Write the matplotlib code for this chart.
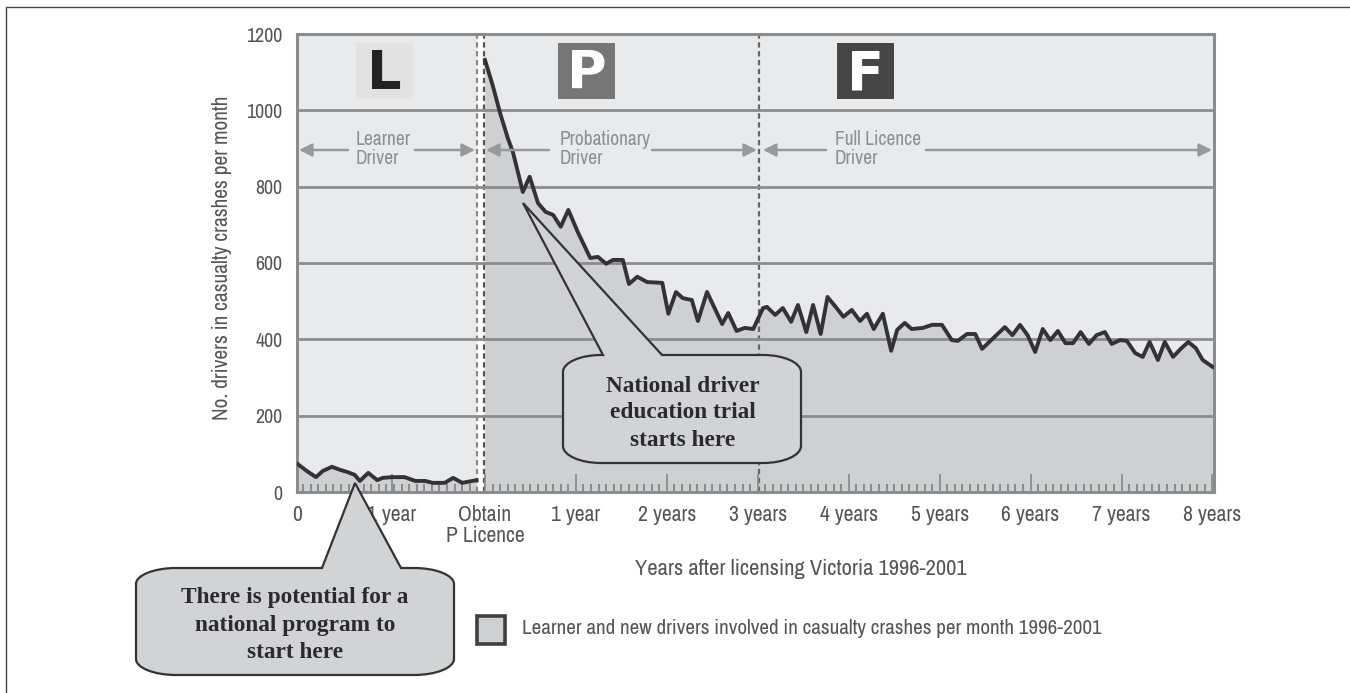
import matplotlib
matplotlib.use("Agg")
import matplotlib.pyplot as plt
from matplotlib.path import Path
from matplotlib.patches import PathPatch, Rectangle
from matplotlib.lines import Line2D
from matplotlib.transforms import Affine2D
from matplotlib import font_manager as fm
import numpy as np

# ---- data (months relative to obtaining the P licence) ----
learner_months = [-24.7, -23.5, -22.3, -21.4, -20.2, -19.1, -18.1, -17.2, -16.5, -15.4, -14.2, -13.5,
                  -12.3, -10.6, -9.2, -7.9, -6.9, -5.3, -4.2, -3.0, -1.1]
learner_values = [73, 55, 39, 55, 66, 58, 52, 45, 29, 50, 31, 37,
                  39, 39, 29, 29, 24, 24, 37, 24, 31]
licensed_months = [0, 1, 2, 3, 3.7, 5, 5.9, 7, 8, 9, 10, 11, 12.3, 13.9, 14.9, 16, 16.9, 18.2, 19, 20.1,
                   21.4, 23.4, 24.2, 25.2, 26.1, 27.3, 28.1, 29.3, 31.3, 32.1, 33.2, 34.3, 35.4, 36.7,
                   37.2, 38.3, 39.3, 40.4, 41.3, 42.4, 43.3, 44.3, 45.2, 46.4, 47.3, 48.4, 49.5, 50.4,
                   51.3, 52.5, 53.6, 54.4, 55.4, 56.3, 57.8, 59, 60.3, 61.6, 62.4, 63.6, 64.7, 65.6,
                   66.8, 68.6, 69.6, 70.6, 71.6, 72.6, 73.6, 74.6, 75.6, 76.6, 77.6, 78.6, 79.7, 80.7,
                   81.8, 82.7, 83.8, 84.7, 85.8, 86.8, 87.7, 88.8, 89.7, 90.8, 91.8, 92.8, 93.8, 94.7, 96]
licensed_values = [1132, 1067, 993, 928, 890, 786, 826, 757, 734, 726, 695, 739, 679, 613, 616, 598, 608, 608, 545, 564,
                   550, 548, 467, 524, 508, 503, 448, 524, 440, 469, 422, 430, 427, 482,
                   485, 464, 482, 446, 490, 419, 490, 414, 511, 482, 459, 477, 448, 467,
                   427, 467, 370, 425, 443, 427, 430, 438, 438, 398, 396, 414, 414, 375,
                   398, 432, 411, 438, 411, 367, 427, 398, 422, 390, 390, 419, 388, 411,
                   419, 388, 398, 396, 364, 354, 393, 346, 393, 354, 375, 393, 377, 346, 328]
y_ticks = [0, 200, 400, 600, 800, 1000, 1200]
x_tick_months = [-24.8, -12.3, 0, 12, 24, 36, 48, 60, 72, 84, 96]
x_tick_labels = ["0", "1 year", "Obtain\nP Licence", "1 year", "2 years", "3 years", "4 years",
                 "5 years", "6 years", "7 years", "8 years"]
y_label = "No. drivers in casualty crashes per month"
x_label = "Years after licensing Victoria 1996-2001"
legend_label = "Learner and new drivers involved in casualty crashes per month 1996-2001"

# ---- style ----
narrow = sorted({f.name for f in fm.fontManager.ttflist if "Narrow" in f.name or "Condensed" in f.name})
NARROW = narrow[0] if narrow else "Roboto"
SERIF = "Liberation Serif"
TXT = "#555557"
GRID = "#8b8c8e"
FILL = "#cfd0d2"
BG = "#e9eaec"
LINE = "#333335"

W, H = 1350, 693
fig = plt.figure(figsize=(W / 100, H / 100), dpi=100, facecolor="white")
ax = fig.add_axes([297 / W, 1 - 492 / H, (1214 - 297) / W, (492 - 34) / H], facecolor=BG)
px = Affine2D().scale(1, -1).translate(0, H)   # reference pixel coords -> display

ax.set_xlim(-24.8, 96.2)
ax.set_ylim(0, 1200)

ax.fill_between(learner_months, learner_values, 0, color=FILL, lw=0, zorder=1)
ax.fill_between(licensed_months, licensed_values, 0, color=FILL, lw=0, zorder=1)
ax.axvspan(-1.0, -0.1, color="white", lw=0, zorder=1.2)

ax.set_yticks(y_ticks)
ax.yaxis.grid(True, color=GRID, lw=2.0, zorder=1.5)
ax.set_axisbelow(False)
ax.tick_params(axis="y", length=0, labelsize=14.4, labelcolor=TXT, pad=10.5)
ax.set_xticks(x_tick_months, x_tick_labels)
ax.set_xticks([m for m in range(-24, 97) if m not in (-1, 0)], minor=True)
ax.tick_params(axis="x", which="major", direction="in", length=13, width=1.3, color=GRID,
               labelsize=15.6, labelcolor=TXT, pad=9.5)
ax.tick_params(axis="x", which="minor", direction="in", length=6, width=1.4, color=GRID)
for lab in ax.get_xticklabels() + ax.get_yticklabels():
    lab.set_family(NARROW)
for lab in ax.get_xticklabels():
    lab.set_linespacing(1.05)
for s in ax.spines.values():
    s.set_color(GRID)
    s.set_linewidth(2.2)

for m, c in [(-1.05, "#8a8a8a"), (-0.1, "#555555"), (36.15, "#666666")]:
    ax.axvline(m, color=c, lw=1.6, ls=(0, (2.4, 1.6)), zorder=1.8)

ax.plot(learner_months, learner_values, color=LINE, lw=2.8, zorder=3, solid_joinstyle="round")
ax.plot(licensed_months, licensed_values, color=LINE, lw=2.8, zorder=3, solid_joinstyle="round")

# axis titles
fig.text(222 / W, 1 - 258 / H, y_label, rotation=90, ha="center", va="center",
         family=NARROW, fontsize=15.4, color=TXT)
fig.text(801 / W, 1 - 569 / H, x_label, ha="center", va="center",
         family=NARROW, fontsize=16.2, color=TXT)

# licence plates
for (x0, letter, bg, fg) in [(356, "L", "#e2e2e3", "#222222"), (558, "P", "#767677", "#ffffff"),
                             (837, "F", "#454546", "#ffffff")]:
    ax.add_patch(Rectangle((x0, 43), 57, 56, transform=px, facecolor=bg, edgecolor="none",
                           clip_on=False, zorder=4))
    ax.text(x0 + 28.5, 74, letter, transform=px, ha="center", va="center", family="DejaVu Sans",
            fontweight="bold", fontsize=39, color=fg, zorder=5)

# stage labels and arrows
ARROW = "#98999b"
for x0, txt in [(356, "Learner\nDriver"), (560, "Probationary\nDriver"), (835, "Full Licence\nDriver")]:
    ax.text(x0, 149, txt, transform=px, ha="left", va="center", family=NARROW, fontsize=14,
            color="#8e8f91", linespacing=1.0, zorder=5)
for xa, xb in [(348, 299), (415, 475), (549, 486), (652, 757), (826, 763), (926, 1212)]:
    ax.annotate("", xy=(xb, 150), xytext=(xa, 150), xycoords=px, textcoords=px, zorder=5,
                arrowprops=dict(arrowstyle="-|>,head_length=0.7,head_width=0.35", color=ARROW, lw=1.8,
                                shrinkA=0, shrinkB=0, mutation_scale=11))


# callouts
def callout(left, right, top, bottom, base_l, base_r, tip, rx, ry):
    k = 0.55
    v = [(base_r, top), (right - rx, top),
         (right - rx + k * rx, top), (right, top + ry - k * ry), (right, top + ry),
         (right, bottom - ry),
         (right, bottom - ry + k * ry), (right - rx + k * rx, bottom), (right - rx, bottom),
         (left + rx, bottom),
         (left + rx - k * rx, bottom), (left, bottom - ry + k * ry), (left, bottom - ry),
         (left, top + ry),
         (left, top + ry - k * ry), (left + rx - k * rx, top), (left + rx, top),
         (base_l, top), tip, (base_r, top)]
    c = [Path.MOVETO, Path.LINETO, Path.CURVE4, Path.CURVE4, Path.CURVE4, Path.LINETO,
         Path.CURVE4, Path.CURVE4, Path.CURVE4, Path.LINETO, Path.CURVE4, Path.CURVE4, Path.CURVE4,
         Path.LINETO, Path.CURVE4, Path.CURVE4, Path.CURVE4, Path.LINETO, Path.LINETO, Path.CLOSEPOLY]
    ax.add_patch(PathPatch(Path(v, c), transform=px, facecolor="#d2d3d5", edgecolor="#333335",
                           lw=1.6, clip_on=False, zorder=10, joinstyle="miter"))


callout(563, 801, 355, 463, 603, 662, (523, 203), 38, 17)
callout(136, 454, 568, 675, 322, 401, (355, 483), 40, 16)
for cx, ys, lines in [(683, (386, 413, 440), ("National driver", "education trial", "starts here")),
                      (295, (597, 625, 652), ("There is potential for a", "national program to", "start here"))]:
    for y, t in zip(ys, lines):
        ax.text(cx, y, t, transform=px, ha="center", va="center", family=SERIF, fontweight="bold",
                fontsize=16.8, color="#2b2b2d", zorder=11)

# legend
ax.add_patch(Rectangle((477, 616), 28, 28, transform=px, facecolor=FILL, edgecolor="#3f3f41",
                       lw=2.6, clip_on=False, zorder=4))
fig.text(522 / W, 1 - 629 / H, legend_label, ha="left", va="center", family=NARROW,
         fontsize=15.2, color=TXT)

# page frame
fig.add_artist(Line2D([6 / W, 6 / W, 1], [0, 1 - 7 / H, 1 - 7 / H], color="#444444", lw=1))

fig.savefig("out.png", dpi=100, facecolor="white")
